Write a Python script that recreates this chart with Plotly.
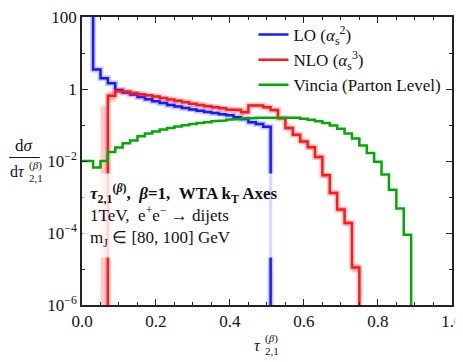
import plotly.graph_objects as go

# bin edges shared by all three histograms (width 0.02)
bin_edges = [round(-0.01 + 0.02 * k, 2) for k in range(46)]

# LO (alpha_s^2): bins from 0.01 to 0.51, first bin is off scale
lo_vals = [1e3, 3.46, 1.98, 1.45, 0.94, 0.80, 0.70, 0.60, 0.52, 0.46,
           0.41, 0.36, 0.325, 0.295, 0.27, 0.25, 0.23, 0.215, 0.20, 0.187,
           0.165, 0.146, 0.12, 0.107, 0.089]
lo_err = [0, 0.25, 0.14, 0.10, 0.07, 0.06, 0.05, 0.045, 0.04, 0.035,
          0.03, 0.027, 0.025, 0.022, 0.02, 0.019, 0.017, 0.016, 0.015, 0.014,
          0.013, 0.012, 0.010, 0.009, 0.008]

# NLO (alpha_s^3): bins from 0.05 to 0.75
nlo_vals = [0, 0.65, 0.88, 0.84, 0.78, 0.72, 0.67, 0.62, 0.56, 0.51,
            0.47, 0.43, 0.39, 0.36, 0.33, 0.31, 0.29, 0.27, 0.26, 0.225,
            0.35, 0.35, 0.31, 0.26, 0.155, 0.083, 0.054, 0.035, 0.024, 0.013,
            0.004, 0.0013, 0.00045, 0.00019, 1.1e-5]
nlo_err = [0.33, 0.2, 0.08, 0.07, 0.07, 0.06, 0.06, 0.06, 0.05, 0.05,
           0.05, 0.04, 0.04, 0.04, 0.04, 0.035, 0.035, 0.03, 0.03, 0.03,
           0.04, 0.04, 0.035, 0.03, 0.02, 0.011, 0.007, 0.005, 0.0035, 0.002,
           0.0006, 0.0002, 0.00007, 0.00003, 0.000003]

# Vincia parton level: bins from -0.01 to 0.89
vincia_vals = [0.010, 0.010, 0.0066, 0.010, 0.0178, 0.0237, 0.031, 0.037, 0.049, 0.058,
               0.066, 0.075, 0.083, 0.091, 0.099, 0.106, 0.113, 0.120, 0.127, 0.133,
               0.140, 0.146, 0.151, 0.156, 0.160, 0.163, 0.165, 0.165, 0.163, 0.158,
               0.150, 0.140, 0.127, 0.113, 0.097, 0.079, 0.058, 0.042, 0.027, 0.0166,
               0.0095, 0.0042, 0.0016, 0.00048, 0.00009]

FLOOR = 1e-9
FONT = "Liberation Serif"
BLUE = "rgb(25,25,255)"
RED = "rgb(255,25,25)"
GREEN = "rgb(0,170,0)"
INK = "#111"


def steps(edges, vals):
    xs, ys = [], []
    for i, v in enumerate(vals):
        v = max(v, FLOOR)
        xs += [edges[i], edges[i + 1]]
        ys += [v, v]
    xs.append(edges[len(vals)])
    ys.append(FLOOR)
    return xs, ys


def band(edges, vals, errs):
    up = [v + e for v, e in zip(vals, errs)]
    dn = [max(v - e, FLOOR) for v, e in zip(vals, errs)]
    xu, yu = steps(edges, up)
    xd, yd = steps(edges, dn)
    return xu[:-1] + xd[:-1][::-1], yu[:-1] + yd[:-1][::-1]


def label(text, x, y, size, xanchor="center"):
    fig.add_annotation(text=text, xref="paper", yref="paper", x=x, y=y,
                       xanchor=xanchor, yanchor="middle", showarrow=False,
                       font=dict(family=FONT, size=size, color=INK))


def tau_label(x, y, prefix=""):
    # tau with the (beta) superscript stacked over the 2,1 subscript
    label(prefix + "<i>τ</i>", x, y, 16, "right")
    label("(<i>β</i>)", x, y + 0.024, 11, "left")
    label("2,1", x, y - 0.02, 11, "left")


fig = go.Figure()

series = [
    ("LO (<i>α</i><sub>s</sub><sup>2</sup>)", bin_edges[1:], lo_vals, lo_err, BLUE, "rgba(25,25,255,0.22)"),
    ("NLO (<i>α</i><sub>s</sub><sup>3</sup>)", bin_edges[3:], nlo_vals, nlo_err, RED, "rgba(255,25,25,0.22)"),
    ("Vincia (Parton Level)", bin_edges, vincia_vals, None, GREEN, None),
]

for name, edges, vals, errs, col, light in series:
    xs, ys = steps(edges, vals)
    if errs is not None:
        bx, by = band(edges, vals, errs)
        fig.add_trace(go.Scatter(x=bx, y=by, mode="lines", fill="toself",
                                 fillcolor=light, line=dict(width=0),
                                 showlegend=False, hoverinfo="skip"))
        fig.add_trace(go.Scatter(x=xs, y=ys, mode="lines",
                                 line=dict(color=light, width=6),
                                 showlegend=False, hoverinfo="skip"))
    fig.add_trace(go.Scatter(x=xs, y=ys, mode="lines", name=name,
                             line=dict(color=col, width=2.5)))

axis_common = dict(
    showline=True, linecolor="#222", linewidth=1.5, mirror="ticks",
    ticks="inside", ticklen=6, tickwidth=1, tickcolor="#222",
    showgrid=False, zeroline=False, ticklabeloverflow="allow",
    tickfont=dict(family=FONT, size=17, color=INK),
)

fig.update_xaxes(range=[0, 1.0005], tickvals=[0, 0.2, 0.4, 0.6, 0.8, 1.0],
                 ticktext=["0.0", "0.2", "0.4", "0.6", "0.8", "1.0"],
                 minor=dict(ticks="inside", ticklen=3, tickcolor="#222", dtick=0.05),
                 **axis_common)
fig.update_yaxes(type="log", range=[-6, 2.0005],
                 tickvals=[1e-6, 1e-4, 1e-2, 1, 100],
                 ticktext=["10<sup>−6</sup>", "10<sup>−4</sup>", "10<sup>−2</sup>", "1", "100"],
                 minor=dict(ticks="inside", ticklen=3, tickcolor="#222",
                            tickvals=[1e-5, 1e-3, 1e-1, 10]),
                 **axis_common)

fig.add_annotation(
    text="<b><i>τ</i><sub>2,1</sub><sup>(<i>β</i>)</sup>,  <i>β</i>=1,  WTA k<sub>T</sub> Axes</b>"
         "<br>1TeV,  e<sup>+</sup>e<sup>−</sup> → dijets"
         "<br>m<sub>J</sub> ∈ [80, 100] GeV",
    xref="paper", yref="paper", x=0, y=0.46, xanchor="left", yanchor="top",
    align="left", showarrow=False, bgcolor="rgba(255,255,255,0.82)",
    borderpad=7, font=dict(family=FONT, size=17, color=INK),
)

# x axis title
tau_label(0.489, -0.14)

# y axis title as a fraction
label("d<i>σ</i>", -0.157, 0.553, 17)
fig.add_shape(type="line", xref="paper", yref="paper",
              x0=-0.197, x1=-0.114, y0=0.512, y1=0.512,
              line=dict(color=INK, width=1))
tau_label(-0.15, 0.462, prefix="d")

# the page body adds an 8px offset, so the figure is sized 8px smaller
fig.update_layout(
    width=455, height=354,
    margin=dict(l=74, r=11, t=0, b=57),
    plot_bgcolor="white", paper_bgcolor="white",
    showlegend=True,
    legend=dict(x=0.985, y=1.0, xanchor="right", yanchor="top",
                bgcolor="rgba(0,0,0,0)", font=dict(family=FONT, size=17, color=INK),
                tracegroupgap=2),
    font=dict(family=FONT, size=17),
)

fig.write_html("out.html")
